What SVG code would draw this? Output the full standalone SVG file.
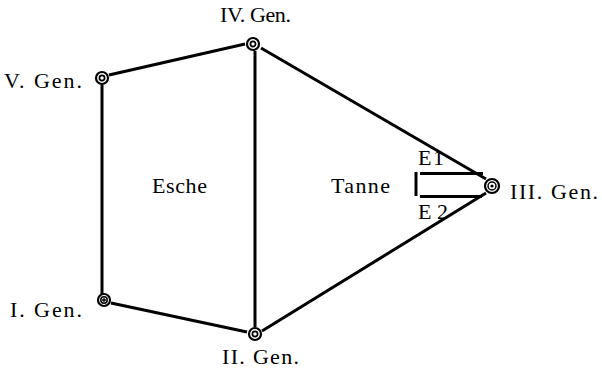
<svg xmlns="http://www.w3.org/2000/svg" width="602" height="373" viewBox="0 0 602 373">
<style>
.l{stroke:#000;stroke-width:3;fill:none;stroke-linecap:butt}
.r{stroke:#000;fill:#fff}
.t{font-family:"Liberation Serif","DejaVu Serif",serif;font-size:22px;fill:#000}
</style>
<rect width="602" height="373" fill="#fff"/>
<g id="connectors">
<line class="l" x1="102" y1="85" x2="102" y2="294"/>
<line class="l" x1="109" y1="75" x2="245" y2="44"/>
<line class="l" x1="255" y1="51" x2="255" y2="327"/>
<line class="l" x1="111" y1="303" x2="247" y2="332"/>
<line class="l" x1="261" y1="48" x2="486" y2="179"/>
<line class="l" x1="262" y1="331" x2="486" y2="193"/>
<line class="l" x1="416" y1="172" x2="416" y2="196"/>
<line class="l" x1="420" y1="173.5" x2="483" y2="173.5"/>
<line class="l" x1="420" y1="196.5" x2="482" y2="196.5"/>
</g>
<g id="n5"><circle class="r" cx="102" cy="78" r="6" stroke-width="2.2"/><circle class="r" cx="102" cy="78" r="2.6" stroke-width="1.7"/><text class="t" x="4" y="88" textLength="78" lengthAdjust="spacing">V. Gen.</text></g>
<g id="n4"><circle class="r" cx="253" cy="44" r="6" stroke-width="2.2"/><circle class="r" cx="253" cy="44" r="2.6" stroke-width="1.7"/><text class="t" x="220" y="22" textLength="71" lengthAdjust="spacing">IV. Gen.</text></g>
<g id="n3"><circle class="r" cx="492" cy="186" r="7" stroke-width="2.2"/><circle class="r" cx="492" cy="186" r="4" stroke-width="1.5"/><circle cx="492" cy="186" r="1.6" fill="#000"/><text class="t" x="510" y="199" textLength="88" lengthAdjust="spacing">III. Gen.</text></g>
<g id="n1"><circle class="r" cx="104" cy="300" r="6" stroke-width="2.2"/><circle class="r" cx="104" cy="300" r="3.2" stroke-width="1.5"/><path d="M104 298v4M102 300h4" stroke="#000" stroke-width="1.3"/><text class="t" x="10" y="317" textLength="72" lengthAdjust="spacing">I. Gen.</text></g>
<g id="n2"><circle class="r" cx="255" cy="334" r="6" stroke-width="2.2"/><circle class="r" cx="255" cy="334" r="2.6" stroke-width="1.7"/><text class="t" x="222" y="364" textLength="77" lengthAdjust="spacing">II. Gen.</text></g>
<g id="labels">
<text class="t" x="152" y="193" textLength="55" lengthAdjust="spacing">Esche</text>
<text class="t" x="331" y="193" textLength="59" lengthAdjust="spacing">Tanne</text>
<text class="t" x="418" y="165" textLength="26" lengthAdjust="spacing">E1</text>
<text class="t" x="418" y="219" textLength="30" lengthAdjust="spacing">E 2</text>
</g>
</svg>
